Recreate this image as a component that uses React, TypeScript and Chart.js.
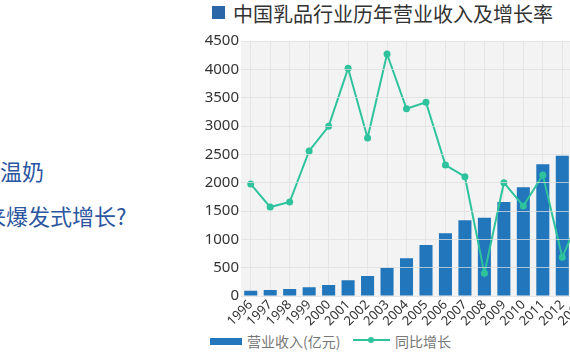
import React, { useEffect, useRef } from "react";
import { Chart, registerables } from "chart.js";

Chart.register(...registerables);

const years = ["1996","1997","1998","1999","2000","2001","2002","2003","2004","2005","2006","2007","2008","2009","2010","2011","2012","2013"];
const revenue = [94,106,124,153,194,277,353,499,665,900,1106,1336,1382,1659,1918,2324,2476,2831];
const growth = [1976,1570,1659,2559,2995,4018,2788,4270,3305,3418,2312,2105,400,2000,1588,2135,683,1480];
const yMax = 4500;
const yStep = 500;

const titleText = "中国乳品行业历年营业收入及增长率";
const barLabel = "营业收入(亿元)";
const lineLabel = "同比增长";

const BAR = "#2176bc";
const LINE = "#2ec39c";

const bgPlugin = {
  id: "plotBg",
  beforeDraw(chart: any) {
    const { ctx, chartArea } = chart;
    if (!chartArea) return;
    ctx.save();
    ctx.fillStyle = "#f3f3f3";
    ctx.fillRect(chartArea.left, chartArea.top, chartArea.right - chartArea.left, chartArea.bottom - chartArea.top);
    ctx.restore();
  },
};

export default function App() {
  const ref = useRef<HTMLCanvasElement | null>(null);
  useEffect(() => {
    if (!ref.current) return;
    const chart = new Chart(ref.current, {
      type: "bar",
      data: {
        labels: years,
        datasets: [
          {
            type: "line",
            label: lineLabel,
            data: growth,
            borderColor: LINE,
            backgroundColor: LINE,
            borderWidth: 2,
            pointRadius: 3.5,
            pointBackgroundColor: LINE,
            pointBorderWidth: 0,
            tension: 0,
            order: 0,
          } as any,
          {
            type: "bar",
            label: barLabel,
            data: revenue,
            backgroundColor: BAR,
            categoryPercentage: 1,
            barPercentage: 0.67,
            order: 1,
          } as any,
        ],
      },
      options: {
        animation: false,
        responsive: false,
        layout: { padding: { top: 11, right: 8.5, left: 0, bottom: 0 } },
        plugins: { legend: { display: false }, tooltip: { enabled: false }, title: { display: false } },
        scales: {
          x: {
            offset: true,
            grid: { offset: false, color: "rgba(220,220,220,0.6)", drawTicks: false },
            border: { display: false },
            ticks: {
              minRotation: 45,
              maxRotation: 45,
              autoSkip: false,
              padding: 1,
              color: "#333",
              font: { family: "Noto Sans", size: 13 },
            },
            afterFit: (s: any) => { s.height = 30; },
          },
          y: {
            min: 0,
            max: yMax,
            grid: { color: "rgba(222,222,222,0.75)", z: 1, drawTicks: false },
            border: { display: false },
            ticks: {
              stepSize: yStep,
              padding: 2,
              color: "#333",
              font: { family: "Noto Sans", size: 15 },
              callback: (v: any) => String(v),
            },
            afterFit: (s: any) => { s.width = 51; },
          },
        },
      },
      plugins: [bgPlugin],
    });
    return () => chart.destroy();
  }, []);

  const cjk = '"Noto Sans CJK SC", "Noto Sans", sans-serif';
  return (
    <div style={{ position: "fixed", left: 0, top: 0, width: 570, height: 360, overflow: "hidden", background: "#fff", fontFamily: cjk }}>
      <div style={{ position: "absolute", left: -22, top: 155, fontSize: 22, lineHeight: "30px", color: "#2b56a0", whiteSpace: "nowrap" }}>常温奶</div>
      <div style={{ position: "absolute", left: -16, top: 200, fontSize: 22, lineHeight: "30px", color: "#2b56a0", whiteSpace: "nowrap" }}>来爆发式增长?</div>
      <div style={{ position: "absolute", left: 212, top: 6, width: 13, height: 13, background: "#2a66a8" }} />
      <div style={{ position: "absolute", left: 233, top: 0, fontSize: 20, lineHeight: "28px", color: "#333", whiteSpace: "nowrap" }}>{titleText}</div>
      <canvas ref={ref} width={410} height={296} style={{ position: "absolute", left: 190, top: 30, width: 410, height: 296 }} />
      <div style={{ position: "absolute", left: 210, top: 338, width: 32, height: 7, background: BAR }} />
      <div style={{ position: "absolute", left: 247, top: 331, fontSize: 14, lineHeight: "20px", color: "#777", whiteSpace: "nowrap" }}>{barLabel}</div>
      <div style={{ position: "absolute", left: 353, top: 338.5, width: 37, height: 2, background: LINE }} />
      <div style={{ position: "absolute", left: 368, top: 336.5, width: 6, height: 6, borderRadius: 3, background: LINE }} />
      <div style={{ position: "absolute", left: 395, top: 331, fontSize: 14, lineHeight: "20px", color: "#777", whiteSpace: "nowrap" }}>{lineLabel}</div>
    </div>
  );
}
